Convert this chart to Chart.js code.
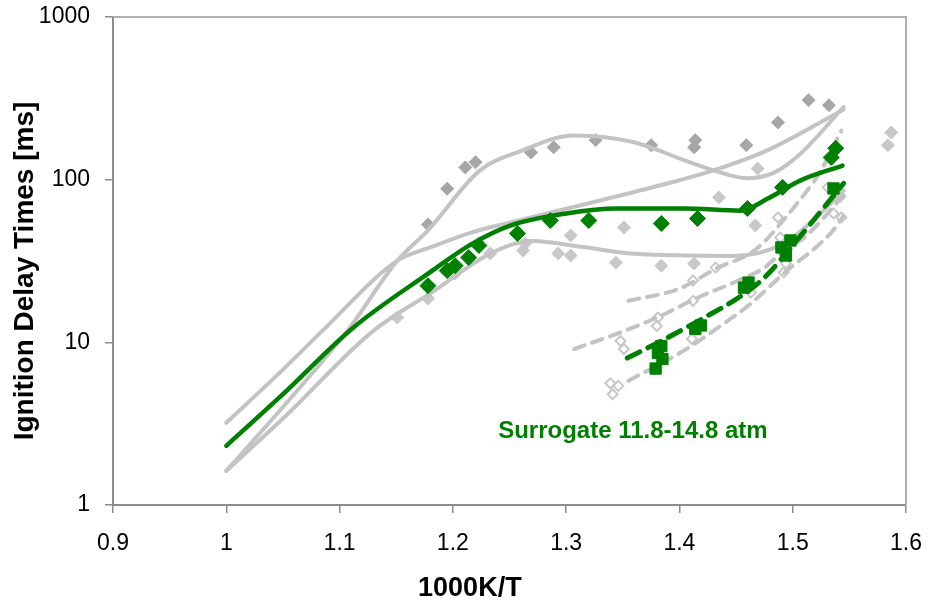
<!DOCTYPE html>
<html>
<head>
<meta charset="utf-8">
<script src="https://cdn.jsdelivr.net/npm/chart.js@4.4.1/dist/chart.umd.min.js"></script>
<style>
  html, body { margin: 0; padding: 0; background: #fff; }
  #wrap { width: 929px; height: 602px; }
</style>
</head>
<body>
<div id="wrap"><canvas id="c" width="929" height="602"></canvas></div>
<script>
// ---- axes ----
const xTicks = [0.9, 1.0, 1.1, 1.2, 1.3, 1.4, 1.5, 1.6];
const yTicks = [1, 10, 100, 1000];
const xTitle = '1000K/T';
const yTitle = 'Ignition Delay Times [ms]';
const noteText = 'Surrogate 11.8-14.8 atm';

// ---- measured ignition delays (1000K/T, ms) ----
// dark grey filled diamonds
const darkX = [1.178, 1.195, 1.211, 1.220, 1.269, 1.289, 1.326, 1.375, 1.413, 1.414, 1.459, 1.487, 1.514, 1.532];
const darkY = [53, 88, 119, 128, 147, 158, 175, 163, 158, 175, 163, 225, 308, 287];
// light grey filled diamonds
const lightX = [1.151, 1.178, 1.202, 1.233, 1.262, 1.264, 1.293, 1.304, 1.304, 1.344, 1.351, 1.384, 1.413, 1.435, 1.467, 1.469, 1.584, 1.587];
const lightY = [14.2, 18.6, 26.5, 35.2, 36.7, 40.5, 35.2, 45.4, 34.2, 30.9, 50.8, 29.6, 30.5, 77.8, 52.3, 117, 163, 195];
// light grey open diamonds
const openX = [1.339, 1.341, 1.346, 1.348, 1.351, 1.380, 1.381, 1.411, 1.412, 1.412, 1.432, 1.463, 1.487, 1.489, 1.492, 1.494, 1.531, 1.536, 1.542, 1.543];
const openY = [5.6, 4.8, 5.4, 10.2, 9.1, 12.6, 14.2, 10.5, 18.0, 24.0, 28.8, 20.2, 58.6, 44, 26.9, 30.5, 89.7, 62, 78.5, 58.6];
// surrogate, green filled diamonds
const surrDiaX = [1.178, 1.195, 1.202, 1.214, 1.223, 1.257, 1.286, 1.320, 1.384, 1.416, 1.460, 1.491, 1.534, 1.538];
const surrDiaY = [22.3, 27.6, 29.6, 33.2, 39.4, 46.7, 56.1, 56.1, 53.8, 57.7, 66.5, 89.7, 137, 156];
// surrogate, green filled squares
const surrSqX = [1.379, 1.381, 1.384, 1.385, 1.414, 1.419, 1.457, 1.461, 1.490, 1.494, 1.498, 1.536];
const surrSqY = [6.9, 8.6, 9.5, 7.9, 12.1, 12.7, 21.7, 23.3, 38.3, 34.2, 42.3, 88.3];

// ---- model curves ----
const modelAX = [1.0, 1.05, 1.107, 1.151, 1.178, 1.224, 1.26, 1.307, 1.36, 1.404, 1.43, 1.46, 1.483, 1.507, 1.545];
const modelAY = [1.62, 4.0, 11.8, 31.8, 48.8, 114, 150, 187, 170, 132, 114, 102, 110, 145, 280];
const modelBX = [1.0, 1.05, 1.085, 1.151, 1.18, 1.216, 1.251, 1.33, 1.39, 1.43, 1.478, 1.545];
const modelBY = [3.2, 6.8, 11.8, 31.8, 38.3, 47.3, 54.6, 74.5, 95, 114, 152, 270];
const modelCX = [1.0, 1.05, 1.13, 1.18, 1.236, 1.27, 1.315, 1.36, 1.448, 1.492, 1.52, 1.545];
const modelCY = [1.62, 3.4, 11.8, 20, 36, 42, 38.5, 35, 34, 40.5, 58, 86];
const surrModelX = [1.0, 1.05, 1.112, 1.18, 1.216, 1.25, 1.30, 1.345, 1.404, 1.454, 1.478, 1.507, 1.544];
const surrModelY = [2.31, 4.8, 12.3, 27, 40, 52, 62, 66.5, 66.5, 64.5, 76.5, 99, 122];
// dashed (higher pressure) model curves
const dashAX = [1.355, 1.40, 1.434, 1.466, 1.501, 1.525, 1.543];
const dashAY = [18, 21.4, 28.8, 36.6, 67.5, 114, 200];
const dashBX = [1.307, 1.345, 1.384, 1.416, 1.452, 1.475, 1.492, 1.51, 1.545];
const dashBY = [9.1, 11.3, 14.6, 18.8, 24, 28.8, 36.6, 44, 80];
const dashCX = [1.355, 1.404, 1.434, 1.463, 1.492, 1.534, 1.545];
const dashCY = [5.8, 8.9, 12.3, 17.3, 26.5, 47.3, 60];
const surrDashX = [1.354, 1.384, 1.422, 1.452, 1.475, 1.505, 1.545];
const surrDashY = [8.0, 10.2, 14.2, 18.8, 25, 43.5, 95];

const pts = (xs, ys) => xs.map((x, i) => ({ x, y: ys[i] }));

const GREEN = '#008000';
const GREY_LINE = '#c3c3c3';
const GREY_DARK = '#a6a6a6';
const GREY_LIGHT = '#c8c8c8';
const FONT = '"Liberation Sans", Arial, sans-serif';

const curve = (xs, ys, color, width, order, dash) => ({
  data: pts(xs, ys), showLine: true, pointRadius: 0, borderColor: color,
  borderWidth: width, cubicInterpolationMode: 'monotone', borderDash: dash || [],
  borderCapStyle: 'round', fill: false, order
});
const marks = (xs, ys, style, radius, fillColor, strokeColor, bw, order) => ({
  data: pts(xs, ys), showLine: false, pointStyle: style, pointRadius: radius,
  backgroundColor: fillColor, borderColor: strokeColor, borderWidth: bw, order
});

// frame, axis titles and the surrogate note
const decorations = {
  id: 'decorations',
  beforeDatasetsDraw(chart) {
    const { ctx, chartArea: a } = chart;
    ctx.save();
    ctx.strokeStyle = '#b0b0b0';
    ctx.lineWidth = 2;
    ctx.beginPath();
    ctx.moveTo(a.left, a.top);
    ctx.lineTo(a.right, a.top);
    ctx.lineTo(a.right, a.bottom);
    ctx.stroke();
    ctx.restore();
  },
  afterDraw(chart) {
    const { ctx, chartArea: a, scales } = chart;
    ctx.save();
    ctx.fillStyle = '#000';
    ctx.textAlign = 'center';
    ctx.textBaseline = 'middle';
    ctx.font = 'bold 27px ' + FONT;
    ctx.fillText(xTitle, a.left + (a.right - a.left) * 0.45, 589);
    ctx.save();
    ctx.translate(25, 271);
    ctx.rotate(-Math.PI / 2);
    ctx.font = 'bold 28px ' + FONT;
    ctx.fillText(yTitle, 0, 0);
    ctx.restore();
    ctx.fillStyle = GREEN;
    ctx.textAlign = 'left';
    ctx.font = 'bold 24px ' + FONT;
    ctx.fillText(noteText, scales.x.getPixelForValue(1.24), scales.y.getPixelForValue(2.85));
    ctx.restore();
  }
};

const axisGrid = {
  display: true, drawOnChartArea: false, drawTicks: true,
  tickLength: 8, color: '#8c8c8c', lineWidth: 1.5
};

new Chart(document.getElementById('c'), {
  type: 'scatter',
  data: {
    datasets: [
      marks(darkX, darkY, 'rectRot', 6.5, GREY_DARK, GREY_DARK, 1, 6),
      marks(lightX, lightY, 'rectRot', 6.5, GREY_LIGHT, GREY_LIGHT, 1, 6),
      marks(openX, openY, 'rectRot', 5, 'rgba(255,255,255,0)', GREY_LIGHT, 2, 6),
      curve(modelAX, modelAY, GREY_LINE, 4, 5),
      curve(modelBX, modelBY, GREY_LINE, 4, 5),
      curve(modelCX, modelCY, GREY_LINE, 4, 5),
      curve(dashAX, dashAY, GREY_LINE, 4, 5, [11, 8]),
      curve(dashBX, dashBY, GREY_LINE, 4, 5, [11, 8]),
      curve(dashCX, dashCY, GREY_LINE, 4, 5, [11, 8]),
      marks(surrDiaX, surrDiaY, 'rectRot', 8, GREEN, GREEN, 1, 2),
      marks(surrSqX, surrSqY, 'rect', 8, GREEN, GREEN, 1, 2),
      curve(surrModelX, surrModelY, GREEN, 4.5, 1),
      curve(surrDashX, surrDashY, GREEN, 5, 1, [14, 9])
    ]
  },
  options: {
    responsive: false,
    animation: false,
    devicePixelRatio: 1,
    layout: { padding: { top: 17, right: 23, left: 0, bottom: 0 } },
    plugins: { legend: { display: false }, tooltip: { enabled: false } },
    scales: {
      x: {
        type: 'linear', min: 0.9, max: 1.6,
        afterBuildTicks: s => { s.ticks = xTicks.map(v => ({ value: v })); },
        afterFit: s => { s.height = 97; s.paddingLeft = 0; s.paddingRight = 0; },
        ticks: {
          color: '#000', font: { family: FONT, size: 23 }, padding: 17,
          callback: v => String(Number(v.toFixed(1)))
        },
        grid: axisGrid,
        border: { display: true, color: '#8c8c8c', width: 2 }
      },
      y: {
        type: 'logarithmic', min: 1, max: 1000,
        afterBuildTicks: s => { s.ticks = yTicks.map(v => ({ value: v })); },
        afterFit: s => { s.width = 113; s.paddingTop = 0; s.paddingBottom = 0; },
        ticks: {
          color: '#000', font: { family: FONT, size: 23 }, padding: 15,
          callback: v => String(v)
        },
        grid: axisGrid,
        border: { display: true, color: '#8c8c8c', width: 2 }
      }
    }
  },
  plugins: [decorations]
});
</script>
</body>
</html>
